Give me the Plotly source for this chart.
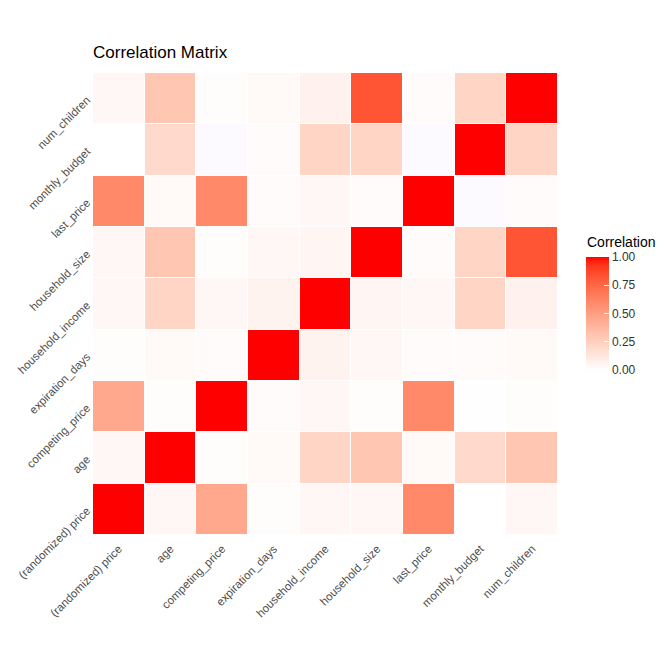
import numpy as np
import plotly.graph_objects as go

variables = ["(randomized) price", "age", "competing_price", "expiration_days",
             "household_income", "household_size", "last_price", "monthly_budget",
             "num_children"]

# correlation values (rows in same order as variables)
row_price    = [1.00, 0.04, 0.45, 0.01, 0.04, 0.04, 0.60, 0.00, 0.04]
row_age      = [0.04, 1.00, 0.01, 0.03, 0.22, 0.30, 0.03, 0.20, 0.30]
row_comp     = [0.45, 0.01, 1.00, 0.02, 0.04, 0.01, 0.60, -0.01, 0.01]
row_exp      = [0.01, 0.03, 0.02, 1.00, 0.06, 0.04, 0.02, 0.02, 0.03]
row_income   = [0.04, 0.22, 0.04, 0.06, 1.00, 0.05, 0.04, 0.22, 0.07]
row_size     = [0.04, 0.30, 0.01, 0.04, 0.05, 1.00, 0.02, 0.22, 0.82]
row_last     = [0.60, 0.03, 0.60, 0.02, 0.04, 0.02, 1.00, -0.02, 0.02]
row_budget   = [0.00, 0.20, -0.02, 0.02, 0.22, 0.22, -0.02, 1.00, 0.22]
row_children = [0.04, 0.30, 0.01, 0.03, 0.07, 0.82, 0.02, 0.22, 1.00]

z = np.array([row_price, row_age, row_comp, row_exp, row_income,
              row_size, row_last, row_budget, row_children])

# --- Lab-interpolated diverging scale (blue - white - red, midpoint 0) ---
def srgb_to_lin(c):
    c = np.asarray(c, float) / 255
    return np.where(c <= 0.04045, c / 12.92, ((c + 0.055) / 1.055) ** 2.4)

def lin_to_srgb(c):
    c = np.clip(c, 0, 1)
    return np.where(c <= 0.0031308, 12.92 * c, 1.055 * c ** (1 / 2.4) - 0.055) * 255

M = np.array([[0.4124, 0.3576, 0.1805], [0.2126, 0.7152, 0.0722], [0.0193, 0.1192, 0.9505]])
Minv = np.linalg.inv(M)
WP = np.array([0.95047, 1.0, 1.08883])

def f(t):
    return np.where(t > 216 / 24389, np.cbrt(t), (24389 / 27 * t + 16) / 116)

def finv(t):
    return np.where(t ** 3 > 216 / 24389, t ** 3, (116 * t - 16) / (24389 / 27))

def rgb_to_lab(rgb):
    xyz = M @ srgb_to_lin(rgb) / WP
    fx, fy, fz = f(xyz)
    return np.array([116 * fy - 16, 500 * (fx - fy), 200 * (fy - fz)])

def lab_to_rgb(lab):
    L, a, b = lab
    fy = (L + 16) / 116
    fx = fy + a / 500
    fz = fy - b / 200
    xyz = np.array([finv(fx), finv(fy), finv(fz)]) * WP
    return lin_to_srgb(Minv @ xyz)

white = rgb_to_lab([255, 255, 255])
red = rgb_to_lab([255, 0, 0])
blue = rgb_to_lab([0, 0, 255])

zmin = float(z.min())
zmax = 1.0
stops = []
vals = list(np.linspace(zmin, 0, 3)) + list(np.linspace(0, zmax, 21))[1:]
for v in vals:
    if v < 0:
        lab = white + (blue - white) * (-v)
    else:
        lab = white + (red - white) * v
    r, g, b = lab_to_rgb(lab)
    pos = (v - zmin) / (zmax - zmin)
    stops.append([float(pos), f"rgb({int(round(r))},{int(round(g))},{int(round(b))})"])
stops[0][0] = 0.0
stops[-1][0] = 1.0

# page has an 8px body margin, so figure coordinates are offset by 8px
OFF = 8
PL, PR, PT, PB = 93 - OFF, 558 - OFF, 73 - OFF, 535 - OFF
W = H = 672
pw, ph = PR - PL, PB - PT

fig = go.Figure(go.Heatmap(
    z=z, x=variables, y=variables,
    colorscale=stops, zmin=zmin, zmax=zmax,
    xgap=1, ygap=1,
    colorbar=dict(
        tickvals=[0, 0.25, 0.5, 0.75, 1.0],
        ticktext=["0.00", "0.25", "0.50", "0.75", "1.00"],
        ticks="inside", ticklen=5, tickcolor="white",
        tickfont=dict(size=12, color="#333333"),
        thickness=23, lenmode="pixels", len=115,
        x=(586 - OFF - PL) / pw, xanchor="left", xpad=0,
        y=(PB - (314.5 - OFF)) / ph, yanchor="middle", ypad=0,
        outlinewidth=0,
    ),
    hovertemplate="%{x} / %{y}: %{z:.2f}<extra></extra>",
))

fig.add_annotation(text="Correlation", xref="paper", yref="paper",
                   x=(585 - OFF - PL) / pw, y=(PB - (242 - OFF)) / ph,
                   xanchor="left", yanchor="middle", showarrow=False,
                   font=dict(size=14, color="black"))

fig.update_layout(
    width=W, height=H,
    margin=dict(l=PL, r=W - PR, t=PT, b=H - PB),
    paper_bgcolor="white", plot_bgcolor="white",
    font=dict(family="Liberation Sans, Arial, sans-serif"),
    title=dict(text="Correlation Matrix", x=0, xref="paper", xanchor="left",
               y=1 - (52 - OFF) / H, yref="container", yanchor="middle",
               font=dict(size=17, color="black")),
)
fig.update_xaxes(tickangle=-45, tickfont=dict(size=11.5, color="#4D4D4D"),
                 showgrid=False, zeroline=False, ticks="", showline=False,
                 automargin=False, ticklabelstandoff=4)
fig.update_yaxes(tickangle=-45, tickfont=dict(size=11.5, color="#4D4D4D"),
                 showgrid=False, zeroline=False, ticks="", showline=False,
                 automargin=False, ticklabelstandoff=5)

fig.write_html("out.html")
